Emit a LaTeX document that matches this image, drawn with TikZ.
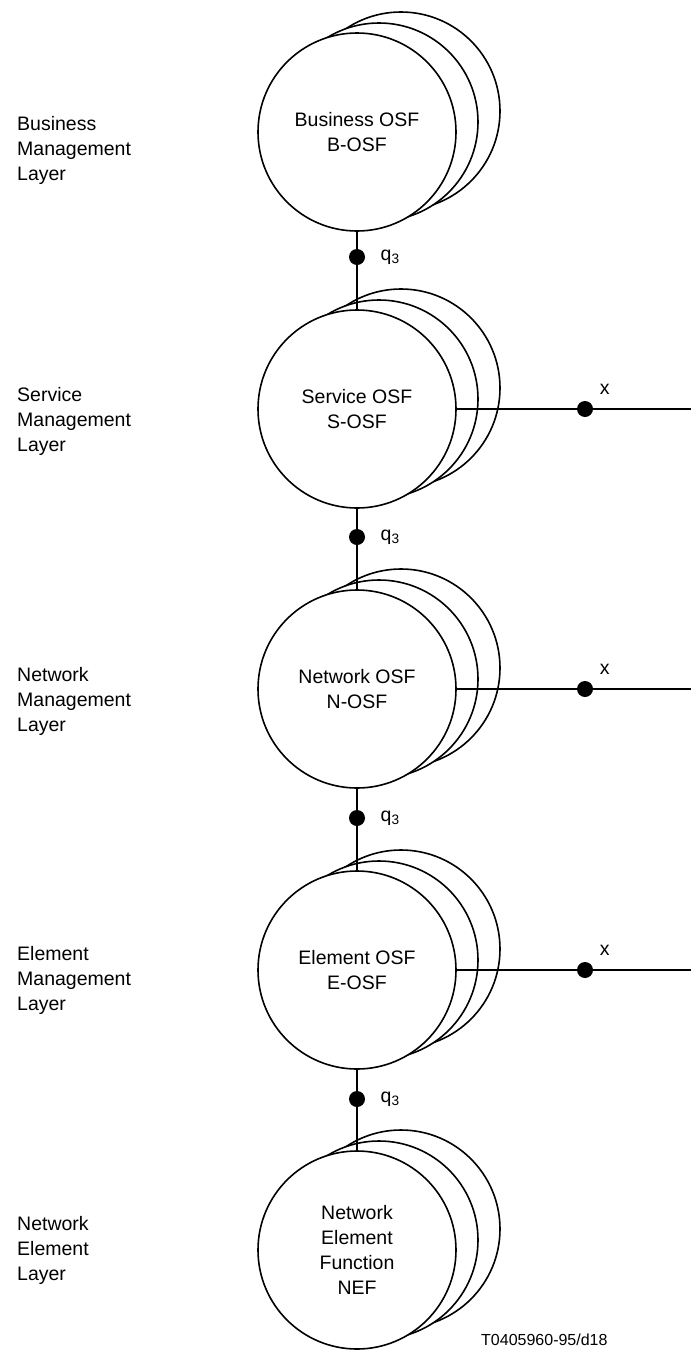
\documentclass[tikz,border=0pt]{standalone}
\usepackage{fontspec}
\setmainfont{Liberation Sans}
\usepackage{tikz}

\begin{document}
\begin{tikzpicture}[x=1pt,y=-1pt,font=\fontsize{19.5}{25}\selectfont,
    osf/.style={circle, draw, fill=white, line width=1.6pt, minimum size=198pt, inner sep=0pt, align=center},
    shade/.style={circle, draw, fill=white, line width=1.6pt, minimum size=198pt, inner sep=0pt},
    layer/.style={anchor=west, align=left, inner sep=0pt},
    dot/.style={circle, fill, inner sep=0pt, minimum size=16pt},
    link/.style={line width=2pt}]
                        \useasboundingbox (0,0) rectangle (691,1352);

                        \node[layer] (bml) at (17,150) {Business\\Management\\Layer};
                        \node[layer] (sml) at (17,421) {Service\\Management\\Layer};
                        \node[layer] (nml) at (17,701) {Network\\Management\\Layer};
                        \node[layer] (eml) at (17,980) {Element\\Management\\Layer};
                        \node[layer] (nel) at (17,1250) {Network\\Element\\Layer};

                        \node[shade] (bosfc) at (401,111) {};
                        \node[shade] (bosfb) at (379,122) {};
                        \node[osf] (bosf) at (357,132) {Business OSF\\B-OSF};

                        \node[shade] (sosfc) at (401,388) {};
                        \node[shade] (sosfb) at (379,399) {};
                        \node[osf] (sosf) at (357,409) {Service OSF\\S-OSF};

                        \node[shade] (nosfc) at (401,668) {};
                        \node[shade] (nosfb) at (379,679) {};
                        \node[osf] (nosf) at (357,689) {Network OSF\\N-OSF};

                        \node[shade] (eosfc) at (401,949) {};
                        \node[shade] (eosfb) at (379,960) {};
                        \node[osf] (eosf) at (357,970) {Element OSF\\E-OSF};

                        \node[shade] (nefc) at (401,1229) {};
                        \node[shade] (nefb) at (379,1240) {};
                        \node[osf] (nef) at (357,1250) {Network\\Element\\Function\\NEF};

                        % q3 reference points
                        \node[dot, label={[label distance=12pt]right:q\textsubscript{3}}] (qa) at (357,257) {};
                        \node[dot, label={[label distance=12pt]right:q\textsubscript{3}}] (qb) at (357,537) {};
                        \node[dot, label={[label distance=12pt]right:q\textsubscript{3}}] (qc) at (357,818) {};
                        \node[dot, label={[label distance=12pt]right:q\textsubscript{3}}] (qd) at (357,1099) {};
                        \draw[link] (bosf) -- (qa) -- (sosf);
                        \draw[link] (sosf) -- (qb) -- (nosf);
                        \draw[link] (nosf) -- (qc) -- (eosf);
                        \draw[link] (eosf) -- (qd) -- (nef);

                        % x reference points
                        \node[dot, label={[label distance=8pt]above right:x}] (xa) at (585,409) {};
                        \node[dot, label={[label distance=8pt]above right:x}] (xb) at (585,689) {};
                        \node[dot, label={[label distance=8pt]above right:x}] (xc) at (585,970) {};
                        \coordinate (ea) at (691,409);
                        \coordinate (eb) at (691,689);
                        \coordinate (ec) at (691,970);
                        \draw[link] (sosf) -- (xa) -- (ea);
                        \draw[link] (nosf) -- (xb) -- (eb);
                        \draw[link] (eosf) -- (xc) -- (ec);

                        \node[anchor=west, inner sep=0pt, font=\fontsize{16}{18}\selectfont] (fig) at (481,1340) {T0405960-95/d18};
                    \end{tikzpicture}
\end{document}
